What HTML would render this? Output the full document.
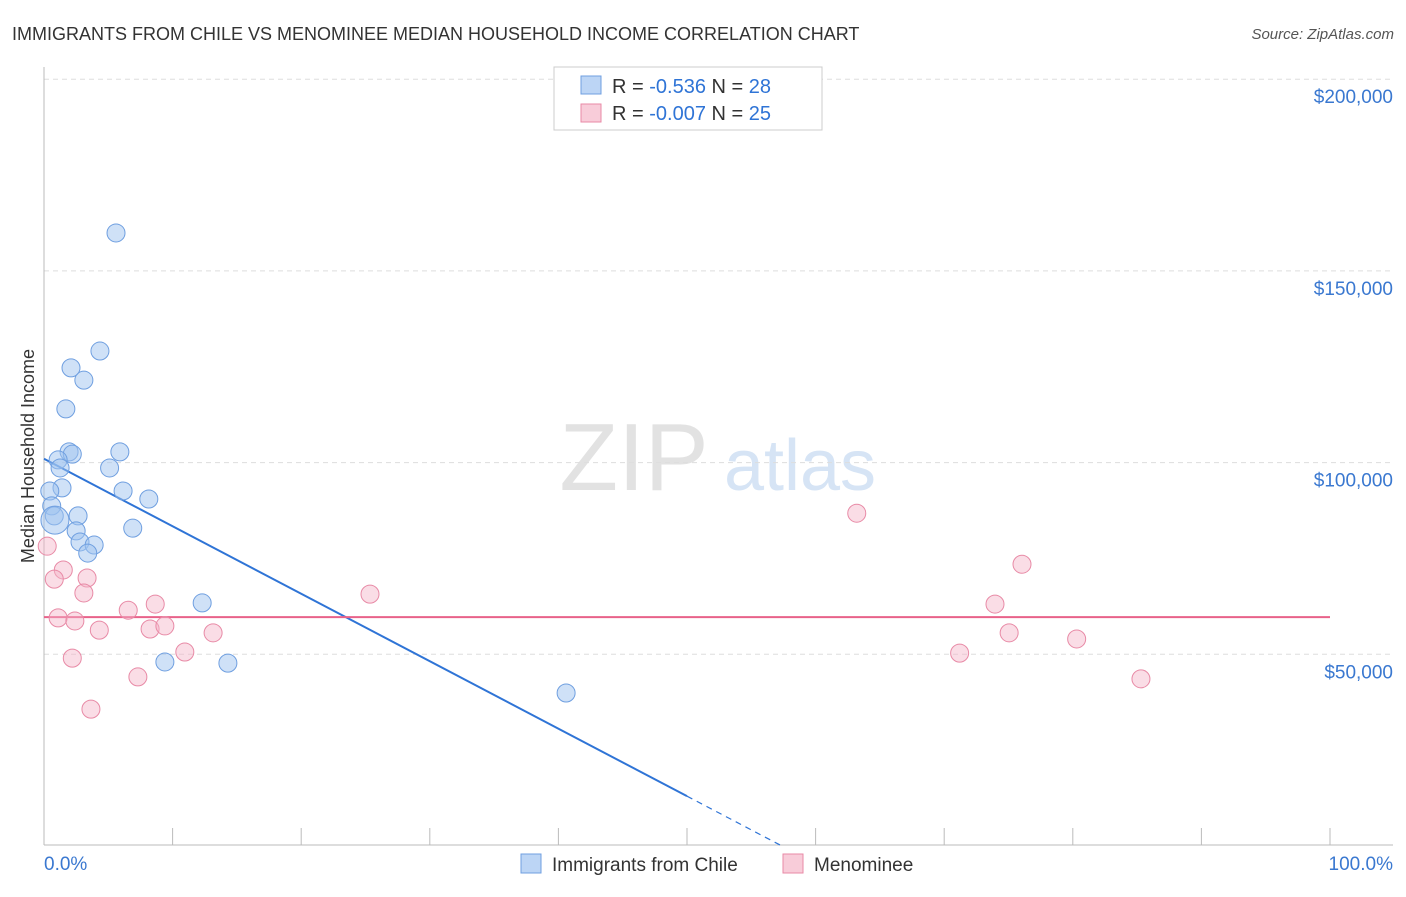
<!DOCTYPE html>
<html><head><meta charset="utf-8"><style>
body{margin:0;background:#fff;font-family:"Liberation Sans",sans-serif}
svg text{font-family:"Liberation Sans",sans-serif}
</style></head><body>
<svg id="c" width="1406" height="892" xmlns="http://www.w3.org/2000/svg">
<text x="12" y="40" font-size="18" fill="#333">IMMIGRANTS FROM CHILE VS MENOMINEE MEDIAN HOUSEHOLD INCOME CORRELATION CHART</text>
<text x="1394" y="39" font-size="15" fill="#555" text-anchor="end" font-style="italic">Source: ZipAtlas.com</text>
<text x="634" y="490" font-size="96" fill="#e2e2e2" text-anchor="middle" font-family="Liberation Serif">ZIP</text>
<text x="800" y="490" font-size="72" fill="#d6e4f5" text-anchor="middle">atlas</text>
<text transform="translate(34,456) rotate(-90)" font-size="18" fill="#333" text-anchor="middle">Median Household Income</text>
<g id="grid"></g><g id="axes"></g><g id="lines"></g><g id="pts"></g>
<g>
<rect x="554" y="67" width="268" height="63" fill="#fff" stroke="#ccc"/>
<rect x="581" y="76" width="20" height="18" fill="#bcd5f5" stroke="#6f9fe0"/>
<text x="612" y="93" font-size="20" fill="#333">R = <tspan fill="#2f74d6"> -0.536</tspan>   N = <tspan fill="#2f74d6">28</tspan></text>
<rect x="581" y="104" width="20" height="18" fill="#f8ccd9" stroke="#e88aa6"/>
<text x="612" y="120" font-size="20" fill="#333">R = <tspan fill="#2f74d6">-0.007</tspan>   N = <tspan fill="#2f74d6">25</tspan></text>
</g>
<g>
<rect x="521" y="854" width="20" height="19" fill="#bcd5f5" stroke="#6f9fe0"/>
<text x="552" y="871" font-size="19" fill="#333">Immigrants from Chile</text>
<rect x="783" y="854" width="20" height="19" fill="#f8ccd9" stroke="#e88aa6"/>
<text x="814" y="871" font-size="19" fill="#333">Menominee</text>
</g>
</svg>
<script>
const yTicks=[50000,100000,150000,200000];
const yTickLabels=["$50,000","$100,000","$150,000","$200,000"];
const xTickLabels=["0.0%","100.0%"];
const chileX=[5.6,4.35,2.1,3.1,1.7,1.95,2.2,1.1,5.9,1.25,5.1,1.4,6.15,8.15,0.45,0.6,2.65,0.8,0.85,2.5,6.9,2.8,3.9,3.4,12.3,9.4,14.3,40.6];
const chileY=[159900,129100,124700,121500,114000,102800,102200,100700,102800,98600,98600,93400,92600,90500,92600,88700,86100,86100,85000,82200,82900,79300,78500,76400,63400,48000,47700,39900];
const menX=[0.25,1.5,0.8,3.35,3.1,1.1,2.4,4.3,6.55,8.65,8.25,9.4,13.15,10.95,2.2,7.3,3.65,25.35,63.2,76.05,73.95,75.05,71.2,80.3,85.3];
const menY=[78200,72000,69600,69900,66000,59500,58700,56300,61500,63100,56600,57400,55600,50600,49000,44100,35700,65700,86800,73500,63100,55600,50300,54000,43600];
const chileTrend=[101000,-1760]; // intercept, slope per %
const menTrend=[59700,0];
const NS="http://www.w3.org/2000/svg";
const X=v=>44+v*12.86, Y=v=>846-v/50000*191.7;
function mk(t,a,p){const e=document.createElementNS(NS,t);for(const k in a)e.setAttribute(k,a[k]);document.getElementById(p).appendChild(e);return e;}
yTicks.forEach((t,i)=>{
 const l=mk('line',{x1:44,x2:1393,y1:Y(t),y2:Y(t),stroke:'#ddd','stroke-dasharray':'5,4'},'grid');
 
 
 const tx=mk('text',{x:1393,y:Y(t)+24,'font-size':19,fill:'#3a78d0','text-anchor':'end'},'grid');
 tx.textContent=yTickLabels[i];
 
 
});
const ax=mk('line',{x1:44,x2:1393,y1:845,y2:845,stroke:'#bbb'},'axes');


const ay=mk('line',{x1:44,x2:44,y1:67,y2:845,stroke:'#bbb'},'axes');


for(let i=0;i<=10;i++){const t=mk('line',{x1:X(i*10),x2:X(i*10),y1:828,y2:845,stroke:'#bbb'},'axes');
 
 }
[[0,'start',44],[100,'end',1393]].forEach((d,i)=>{const t=mk('text',{x:d[2],y:870,'font-size':19,fill:'#3a78d0','text-anchor':d[1]},'axes');t.textContent=xTickLabels[i];
 
 });
const cy=x=>chileTrend[0]+chileTrend[1]*x;
const xEnd=-chileTrend[0]/chileTrend[1];
const b1=mk('line',{x1:X(0),y1:Y(cy(0)),x2:X(50),y2:Y(cy(50)),stroke:'#2f74d6','stroke-width':2},'lines');


const b2=mk('line',{x1:X(50),y1:Y(cy(50)),x2:X(xEnd),y2:Y(0),stroke:'#2f74d6','stroke-width':1.2,'stroke-dasharray':'6,5'},'lines');


const p1=mk('line',{x1:X(0),y1:Y(menTrend[0]),x2:X(100),y2:Y(menTrend[0]+menTrend[1]*100),stroke:'#e8628a','stroke-width':2},'lines');


chileX.forEach((x,i)=>{const c=mk('circle',{cx:X(x),cy:Y(chileY[i]),r:i==18?14:9,fill:'rgba(160,196,240,0.5)',stroke:'#6f9fe0','stroke-width':1},'pts');
 
 });
menX.forEach((x,i)=>{const c=mk('circle',{cx:X(x),cy:Y(menY[i]),r:9,fill:'rgba(245,180,200,0.45)',stroke:'#e88aa6','stroke-width':1},'pts');
 
 });
</script>
</body></html>
